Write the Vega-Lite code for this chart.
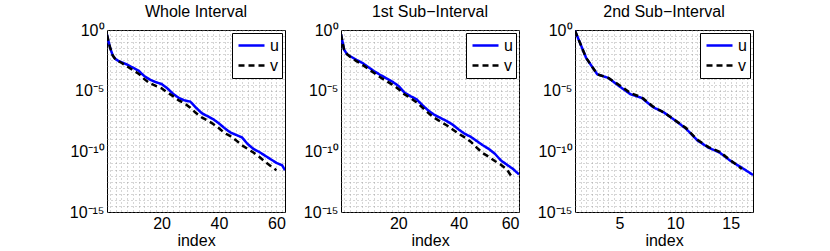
{
  "$schema": "https://vega.github.io/schema/vega-lite/v6.json",
  "padding": {"left": 68, "top": 3, "right": 5, "bottom": 1},
  "background": "white",
  "config": {
    "font": "Liberation Sans",
    "view": {"stroke": "black", "strokeWidth": 1},
    "title": {"fontSize": 16, "fontWeight": "normal", "offset": 2, "color": "black"},
    "axis": {"labelFontSize": 16, "titleFontSize": 16, "titleFontWeight": "normal", "labelColor": "black", "titleColor": "black", "domain": false, "ticks": false, "grid": true, "gridColor": "#8a8a8a", "gridDash": [1, 3], "gridWidth": 0.7, "labelOverlap": false, "labelPadding": 3},
    "legend": {"orient": "top-right", "offset": 3, "fillColor": "white", "strokeColor": "black", "padding": 3, "symbolType": "stroke", "symbolStrokeWidth": 2.5, "symbolSize": 676, "symbolOffset": 2, "clipHeight": 19, "labelFontSize": 16, "rowPadding": 1, "title": null, "labelOffset": 4}
  },
  "datasets": {
    "whole": [
      {"series": "u", "index": 1, "value": 3.98e-1}, {"series": "u", "index": 2, "value": 3.98e-2}, {"series": "u", "index": 3, "value": 7.94e-3}, {"series": "u", "index": 4, "value": 3.98e-3}, {"series": "u", "index": 5, "value": 2.82e-3}, {"series": "u", "index": 6, "value": 2.24e-3}, {"series": "u", "index": 8, "value": 1.41e-3}, {"series": "u", "index": 10, "value": 7.94e-4}, {"series": "u", "index": 12, "value": 4.47e-4}, {"series": "u", "index": 14, "value": 1.58e-4}, {"series": "u", "index": 16, "value": 7.94e-5}, {"series": "u", "index": 18, "value": 5.01e-5}, {"series": "u", "index": 20, "value": 3.55e-5}, {"series": "u", "index": 22, "value": 1.58e-5}, {"series": "u", "index": 24, "value": 5.62e-6}, {"series": "u", "index": 26, "value": 2.51e-6}, {"series": "u", "index": 28, "value": 1.58e-6}, {"series": "u", "index": 30, "value": 1.26e-6}, {"series": "u", "index": 32, "value": 3.98e-7}, {"series": "u", "index": 34, "value": 1.41e-7}, {"series": "u", "index": 36, "value": 7.94e-8}, {"series": "u", "index": 38, "value": 4.47e-8}, {"series": "u", "index": 40, "value": 2.0e-8}, {"series": "u", "index": 42, "value": 7.94e-9}, {"series": "u", "index": 44, "value": 3.55e-9}, {"series": "u", "index": 46, "value": 2.24e-9}, {"series": "u", "index": 48, "value": 1.41e-9}, {"series": "u", "index": 50, "value": 3.98e-10}, {"series": "u", "index": 52, "value": 1.58e-10}, {"series": "u", "index": 54, "value": 8.91e-11}, {"series": "u", "index": 56, "value": 4.47e-11}, {"series": "u", "index": 58, "value": 2.24e-11}, {"series": "u", "index": 60, "value": 1.12e-11}, {"series": "u", "index": 62, "value": 7.08e-12}, {"series": "u", "index": 63, "value": 2.82e-12},
      {"series": "v", "index": 1, "value": 3.98e-1}, {"series": "v", "index": 2, "value": 3.98e-2}, {"series": "v", "index": 3, "value": 7.94e-3}, {"series": "v", "index": 4, "value": 3.55e-3}, {"series": "v", "index": 6, "value": 2.0e-3}, {"series": "v", "index": 8, "value": 1.0e-3}, {"series": "v", "index": 10, "value": 5.01e-4}, {"series": "v", "index": 12, "value": 2.51e-4}, {"series": "v", "index": 14, "value": 8.91e-5}, {"series": "v", "index": 16, "value": 3.98e-5}, {"series": "v", "index": 18, "value": 2.51e-5}, {"series": "v", "index": 20, "value": 1.58e-5}, {"series": "v", "index": 22, "value": 7.08e-6}, {"series": "v", "index": 24, "value": 3.55e-6}, {"series": "v", "index": 26, "value": 1.58e-6}, {"series": "v", "index": 28, "value": 8.91e-7}, {"series": "v", "index": 30, "value": 3.98e-7}, {"series": "v", "index": 32, "value": 1.41e-7}, {"series": "v", "index": 34, "value": 6.31e-8}, {"series": "v", "index": 36, "value": 3.55e-8}, {"series": "v", "index": 38, "value": 1.78e-8}, {"series": "v", "index": 40, "value": 7.94e-9}, {"series": "v", "index": 42, "value": 3.16e-9}, {"series": "v", "index": 44, "value": 1.78e-9}, {"series": "v", "index": 46, "value": 7.94e-10}, {"series": "v", "index": 48, "value": 3.16e-10}, {"series": "v", "index": 50, "value": 1.58e-10}, {"series": "v", "index": 52, "value": 7.94e-11}, {"series": "v", "index": 54, "value": 3.55e-11}, {"series": "v", "index": 56, "value": 1.41e-11}, {"series": "v", "index": 58, "value": 6.31e-12}, {"series": "v", "index": 60, "value": 2.82e-12}
    ],
    "first": [
      {"series": "u", "index": 1, "value": 4.47e-1}, {"series": "u", "index": 2, "value": 2.51e-2}, {"series": "u", "index": 3, "value": 1.0e-2}, {"series": "u", "index": 4, "value": 7.08e-3}, {"series": "u", "index": 6, "value": 3.55e-3}, {"series": "u", "index": 8, "value": 2.0e-3}, {"series": "u", "index": 10, "value": 8.91e-4}, {"series": "u", "index": 12, "value": 3.98e-4}, {"series": "u", "index": 14, "value": 2.0e-4}, {"series": "u", "index": 16, "value": 1.05e-4}, {"series": "u", "index": 18, "value": 5.62e-5}, {"series": "u", "index": 20, "value": 2.51e-5}, {"series": "u", "index": 22, "value": 7.08e-6}, {"series": "u", "index": 24, "value": 3.55e-6}, {"series": "u", "index": 26, "value": 2.0e-6}, {"series": "u", "index": 28, "value": 6.31e-7}, {"series": "u", "index": 30, "value": 2.24e-7}, {"series": "u", "index": 32, "value": 1.0e-7}, {"series": "u", "index": 34, "value": 5.62e-8}, {"series": "u", "index": 36, "value": 3.16e-8}, {"series": "u", "index": 38, "value": 1.58e-8}, {"series": "u", "index": 40, "value": 6.31e-9}, {"series": "u", "index": 42, "value": 2.82e-9}, {"series": "u", "index": 44, "value": 1.58e-9}, {"series": "u", "index": 46, "value": 7.08e-10}, {"series": "u", "index": 48, "value": 3.16e-10}, {"series": "u", "index": 50, "value": 1.58e-10}, {"series": "u", "index": 52, "value": 6.31e-11}, {"series": "u", "index": 54, "value": 1.78e-11}, {"series": "u", "index": 56, "value": 7.94e-12}, {"series": "u", "index": 58, "value": 3.55e-12}, {"series": "u", "index": 60, "value": 1.26e-12},
      {"series": "v", "index": 1, "value": 4.47e-1}, {"series": "v", "index": 2, "value": 2.51e-2}, {"series": "v", "index": 3, "value": 1.0e-2}, {"series": "v", "index": 4, "value": 6.31e-3}, {"series": "v", "index": 6, "value": 2.82e-3}, {"series": "v", "index": 8, "value": 1.41e-3}, {"series": "v", "index": 10, "value": 6.31e-4}, {"series": "v", "index": 12, "value": 2.82e-4}, {"series": "v", "index": 14, "value": 1.26e-4}, {"series": "v", "index": 16, "value": 6.31e-5}, {"series": "v", "index": 18, "value": 3.16e-5}, {"series": "v", "index": 20, "value": 1.41e-5}, {"series": "v", "index": 22, "value": 5.01e-6}, {"series": "v", "index": 24, "value": 2.51e-6}, {"series": "v", "index": 26, "value": 1.12e-6}, {"series": "v", "index": 28, "value": 3.98e-7}, {"series": "v", "index": 30, "value": 1.41e-7}, {"series": "v", "index": 32, "value": 5.62e-8}, {"series": "v", "index": 34, "value": 2.82e-8}, {"series": "v", "index": 36, "value": 1.41e-8}, {"series": "v", "index": 38, "value": 6.31e-9}, {"series": "v", "index": 40, "value": 2.82e-9}, {"series": "v", "index": 42, "value": 1.41e-9}, {"series": "v", "index": 44, "value": 6.31e-10}, {"series": "v", "index": 46, "value": 2.0e-10}, {"series": "v", "index": 48, "value": 7.08e-11}, {"series": "v", "index": 50, "value": 3.55e-11}, {"series": "v", "index": 52, "value": 1.58e-11}, {"series": "v", "index": 54, "value": 7.94e-12}, {"series": "v", "index": 56, "value": 3.16e-12}, {"series": "v", "index": 58, "value": 5.62e-13}
    ],
    "second": [
      {"series": "u", "index": 1, "value": 8.91e-1}, {"series": "u", "index": 2, "value": 5.01e-3}, {"series": "u", "index": 3, "value": 2.24e-4}, {"series": "u", "index": 4, "value": 1.12e-4}, {"series": "u", "index": 5, "value": 2.24e-5}, {"series": "u", "index": 6, "value": 5.01e-6}, {"series": "u", "index": 7, "value": 2.51e-6}, {"series": "u", "index": 8, "value": 4.47e-7}, {"series": "u", "index": 9, "value": 1.58e-7}, {"series": "u", "index": 10, "value": 3.55e-8}, {"series": "u", "index": 11, "value": 7.08e-9}, {"series": "u", "index": 12, "value": 7.94e-10}, {"series": "u", "index": 13, "value": 2.0e-10}, {"series": "u", "index": 14, "value": 7.94e-11}, {"series": "u", "index": 15, "value": 1.58e-11}, {"series": "u", "index": 16, "value": 4.47e-12}, {"series": "u", "index": 17, "value": 1.12e-12},
      {"series": "v", "index": 1, "value": 8.91e-1}, {"series": "v", "index": 2, "value": 5.01e-3}, {"series": "v", "index": 3, "value": 2.24e-4}, {"series": "v", "index": 4, "value": 1.12e-4}, {"series": "v", "index": 5, "value": 2.82e-5}, {"series": "v", "index": 6, "value": 6.31e-6}, {"series": "v", "index": 7, "value": 2.82e-6}, {"series": "v", "index": 8, "value": 5.01e-7}, {"series": "v", "index": 9, "value": 1.58e-7}, {"series": "v", "index": 10, "value": 3.55e-8}, {"series": "v", "index": 11, "value": 7.94e-9}, {"series": "v", "index": 12, "value": 8.91e-10}, {"series": "v", "index": 13, "value": 2.24e-10}, {"series": "v", "index": 14, "value": 8.91e-11}, {"series": "v", "index": 15, "value": 1.78e-11}, {"series": "v", "index": 16, "value": 3.55e-12}
    ]
  },
  "hconcat": [
    {
      "title": "Whole Interval",
      "width": 178, "height": 182,
      "data": {"name": "whole"},
      "mark": {"type": "line", "strokeWidth": 2.5, "clip": true},
      "encoding": {
        "x": {"field": "index", "type": "quantitative", "scale": {"domain": [1, 63], "nice": false, "zero": false}, "axis": {"title": "index", "titlePadding": 1, "values": [2,4,6,8,10,12,14,16,18,20,22,24,26,28,30,32,34,36,38,40,42,44,46,48,50,52,54,56,58,60,62], "labelExpr": "datum.value % 20 == 0 ? datum.label : ''"}},
        "y": {"field": "value", "type": "quantitative", "scale": {"type": "log", "domain": [1e-15, 1], "nice": false}, "axis": {"title": null, "values": [1, 3.16e-1, 1e-1, 3.16e-2, 1e-2, 3.16e-3, 1e-3, 3.16e-4, 1e-4, 3.16e-5, 1e-5, 3.16e-6, 1e-6, 3.16e-7, 1e-7, 3.16e-8, 1e-8, 3.16e-9, 1e-9, 3.16e-10, 1e-10, 3.16e-11, 1e-11, 3.16e-12, 1e-12, 3.16e-13, 1e-13, 3.16e-14, 1e-14, 3.16e-15, 1e-15], "labelExpr": "abs(log(datum.value)/LN10) < 0.01 ? '10\u2070' : abs(log(datum.value)/LN10 + 5) < 0.01 ? '10\u207b\u2075' : abs(log(datum.value)/LN10 + 10) < 0.01 ? '10\u207b\u00b9\u2070' : abs(log(datum.value)/LN10 + 15) < 0.01 ? '10\u207b\u00b9\u2075' : ''"}},
        "color": {"field": "series", "type": "nominal", "scale": {"domain": ["u", "v"], "range": ["#0000ff", "#000000"]}},
        "strokeDash": {"field": "series", "type": "nominal", "scale": {"domain": ["u", "v"], "range": [[1, 0], [6, 4]]}}
      }
    },
    {
      "title": "1st Sub\u2212Interval",
      "width": 178, "height": 182,
      "data": {"name": "first"},
      "mark": {"type": "line", "strokeWidth": 2.5, "clip": true},
      "encoding": {
        "x": {"field": "index", "type": "quantitative", "scale": {"domain": [1, 60], "nice": false, "zero": false}, "axis": {"title": "index", "titlePadding": 1, "values": [2,4,6,8,10,12,14,16,18,20,22,24,26,28,30,32,34,36,38,40,42,44,46,48,50,52,54,56,58,60], "labelExpr": "datum.value % 20 == 0 ? datum.label : ''"}},
        "y": {"field": "value", "type": "quantitative", "scale": {"type": "log", "domain": [1e-15, 1], "nice": false}, "axis": {"title": null, "values": [1, 3.16e-1, 1e-1, 3.16e-2, 1e-2, 3.16e-3, 1e-3, 3.16e-4, 1e-4, 3.16e-5, 1e-5, 3.16e-6, 1e-6, 3.16e-7, 1e-7, 3.16e-8, 1e-8, 3.16e-9, 1e-9, 3.16e-10, 1e-10, 3.16e-11, 1e-11, 3.16e-12, 1e-12, 3.16e-13, 1e-13, 3.16e-14, 1e-14, 3.16e-15, 1e-15], "labelExpr": "abs(log(datum.value)/LN10) < 0.01 ? '10\u2070' : abs(log(datum.value)/LN10 + 5) < 0.01 ? '10\u207b\u2075' : abs(log(datum.value)/LN10 + 10) < 0.01 ? '10\u207b\u00b9\u2070' : abs(log(datum.value)/LN10 + 15) < 0.01 ? '10\u207b\u00b9\u2075' : ''"}},
        "color": {"field": "series", "type": "nominal", "scale": {"domain": ["u", "v"], "range": ["#0000ff", "#000000"]}},
        "strokeDash": {"field": "series", "type": "nominal", "scale": {"domain": ["u", "v"], "range": [[1, 0], [6, 4]]}}
      }
    },
    {
      "title": "2nd Sub\u2212Interval",
      "width": 178, "height": 182,
      "data": {"name": "second"},
      "mark": {"type": "line", "strokeWidth": 2.5, "clip": true},
      "encoding": {
        "x": {"field": "index", "type": "quantitative", "scale": {"domain": [1, 17], "nice": false, "zero": false}, "axis": {"title": "index", "titlePadding": 1, "values": [1.5,2,2.5,3,3.5,4,4.5,5,5.5,6,6.5,7,7.5,8,8.5,9,9.5,10,10.5,11,11.5,12,12.5,13,13.5,14,14.5,15,15.5,16,16.5], "labelExpr": "datum.value % 5 == 0 ? format(datum.value, 'd') : ''"}},
        "y": {"field": "value", "type": "quantitative", "scale": {"type": "log", "domain": [1e-15, 1], "nice": false}, "axis": {"title": null, "values": [1, 3.16e-1, 1e-1, 3.16e-2, 1e-2, 3.16e-3, 1e-3, 3.16e-4, 1e-4, 3.16e-5, 1e-5, 3.16e-6, 1e-6, 3.16e-7, 1e-7, 3.16e-8, 1e-8, 3.16e-9, 1e-9, 3.16e-10, 1e-10, 3.16e-11, 1e-11, 3.16e-12, 1e-12, 3.16e-13, 1e-13, 3.16e-14, 1e-14, 3.16e-15, 1e-15], "labelExpr": "abs(log(datum.value)/LN10) < 0.01 ? '10\u2070' : abs(log(datum.value)/LN10 + 5) < 0.01 ? '10\u207b\u2075' : abs(log(datum.value)/LN10 + 10) < 0.01 ? '10\u207b\u00b9\u2070' : abs(log(datum.value)/LN10 + 15) < 0.01 ? '10\u207b\u00b9\u2075' : ''"}},
        "color": {"field": "series", "type": "nominal", "scale": {"domain": ["u", "v"], "range": ["#0000ff", "#000000"]}},
        "strokeDash": {"field": "series", "type": "nominal", "scale": {"domain": ["u", "v"], "range": [[1, 0], [6, 4]]}}
      }
    }
  ],
  "spacing": 56,
  "bounds": "flush",
  "resolve": {"legend": {"color": "independent", "strokeDash": "independent"}, "scale": {"x": "independent"}}
}
